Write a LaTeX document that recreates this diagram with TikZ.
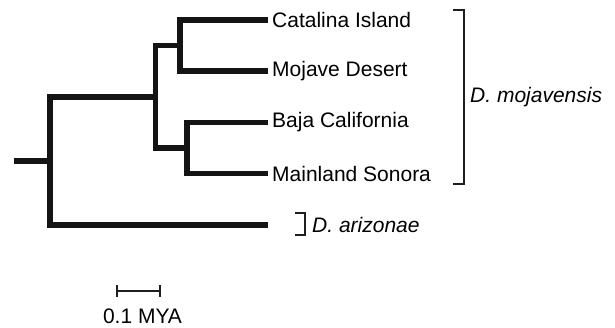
\documentclass[tikz,border=0pt]{standalone}
\usepackage{fontspec}
\setmainfont{Liberation Sans}
\begin{document}
\begin{tikzpicture}[x=1pt,y=-1pt,
  br/.style={line width=5.5pt,black!92},
  thin/.style={line width=1.5pt,black!88},
  lab/.style={anchor=west,inner sep=0pt,font=\fontsize{21}{25}\selectfont},
  ilab/.style={lab,font=\fontsize{21}{25}\selectfont\itshape}]
\useasboundingbox (0,0) rectangle (615,327);
% tips
\coordinate (tc) at (268,20);
\coordinate (tm) at (268,71);
\coordinate (tb) at (268,122.5);
\coordinate (ts) at (268,173.5);
\coordinate (ta) at (268,225);
% internal nodes
\coordinate (n3) at (180,45.5);
\coordinate (n4) at (187,148);
\coordinate (n2) at (155.5,96.75);
\coordinate (n1) at (50,161);
\coordinate (root) at (14,161);
% branches
\draw[br] (tc) -| (n3) |- (tm);
\draw[br] (tb) -| (n4) |- (ts);
\draw[br] (n3) -| (n2) |- (n4);
\draw[br] (n2) -| (n1) |- (ta);
\draw[br] (root) -- (n1);
% labels
\node[lab] (lc) at (272,20) {Catalina Island};
\node[lab] (lm) at (272,71) {Mojave Desert};
\node[lab] (lb) at (272,122.5) {Baja California};
\node[lab] (ls) at (272,173.5) {Mainland Sonora};
% brackets
\coordinate (bm1) at (453,10);
\coordinate (bm2) at (453,184);
\draw[thin] (bm1) -- (464,10) -- (464,184) -- (bm2);
\node[ilab] (dm) at (470,97) {D. mojavensis};
\coordinate (ba1) at (295,213);
\coordinate (ba2) at (295,235);
\draw[thin] (ba1) -- (305,213) -- (305,235) -- (ba2);
\node[ilab] (da) at (312,225) {D. arizonae};
% scale bar
\coordinate (s1) at (117,291);
\coordinate (s2) at (160,291);
\draw[thin] (s1) -- (s2);
\draw[thin] ([yshift=-6pt]s1) -- ([yshift=6pt]s1);
\draw[thin] ([yshift=-6pt]s2) -- ([yshift=6pt]s2);
\node[inner sep=0pt,font=\fontsize{21}{25}\selectfont] (sl) at (142.5,316) {0.1 MYA};
\end{tikzpicture}
\end{document}
